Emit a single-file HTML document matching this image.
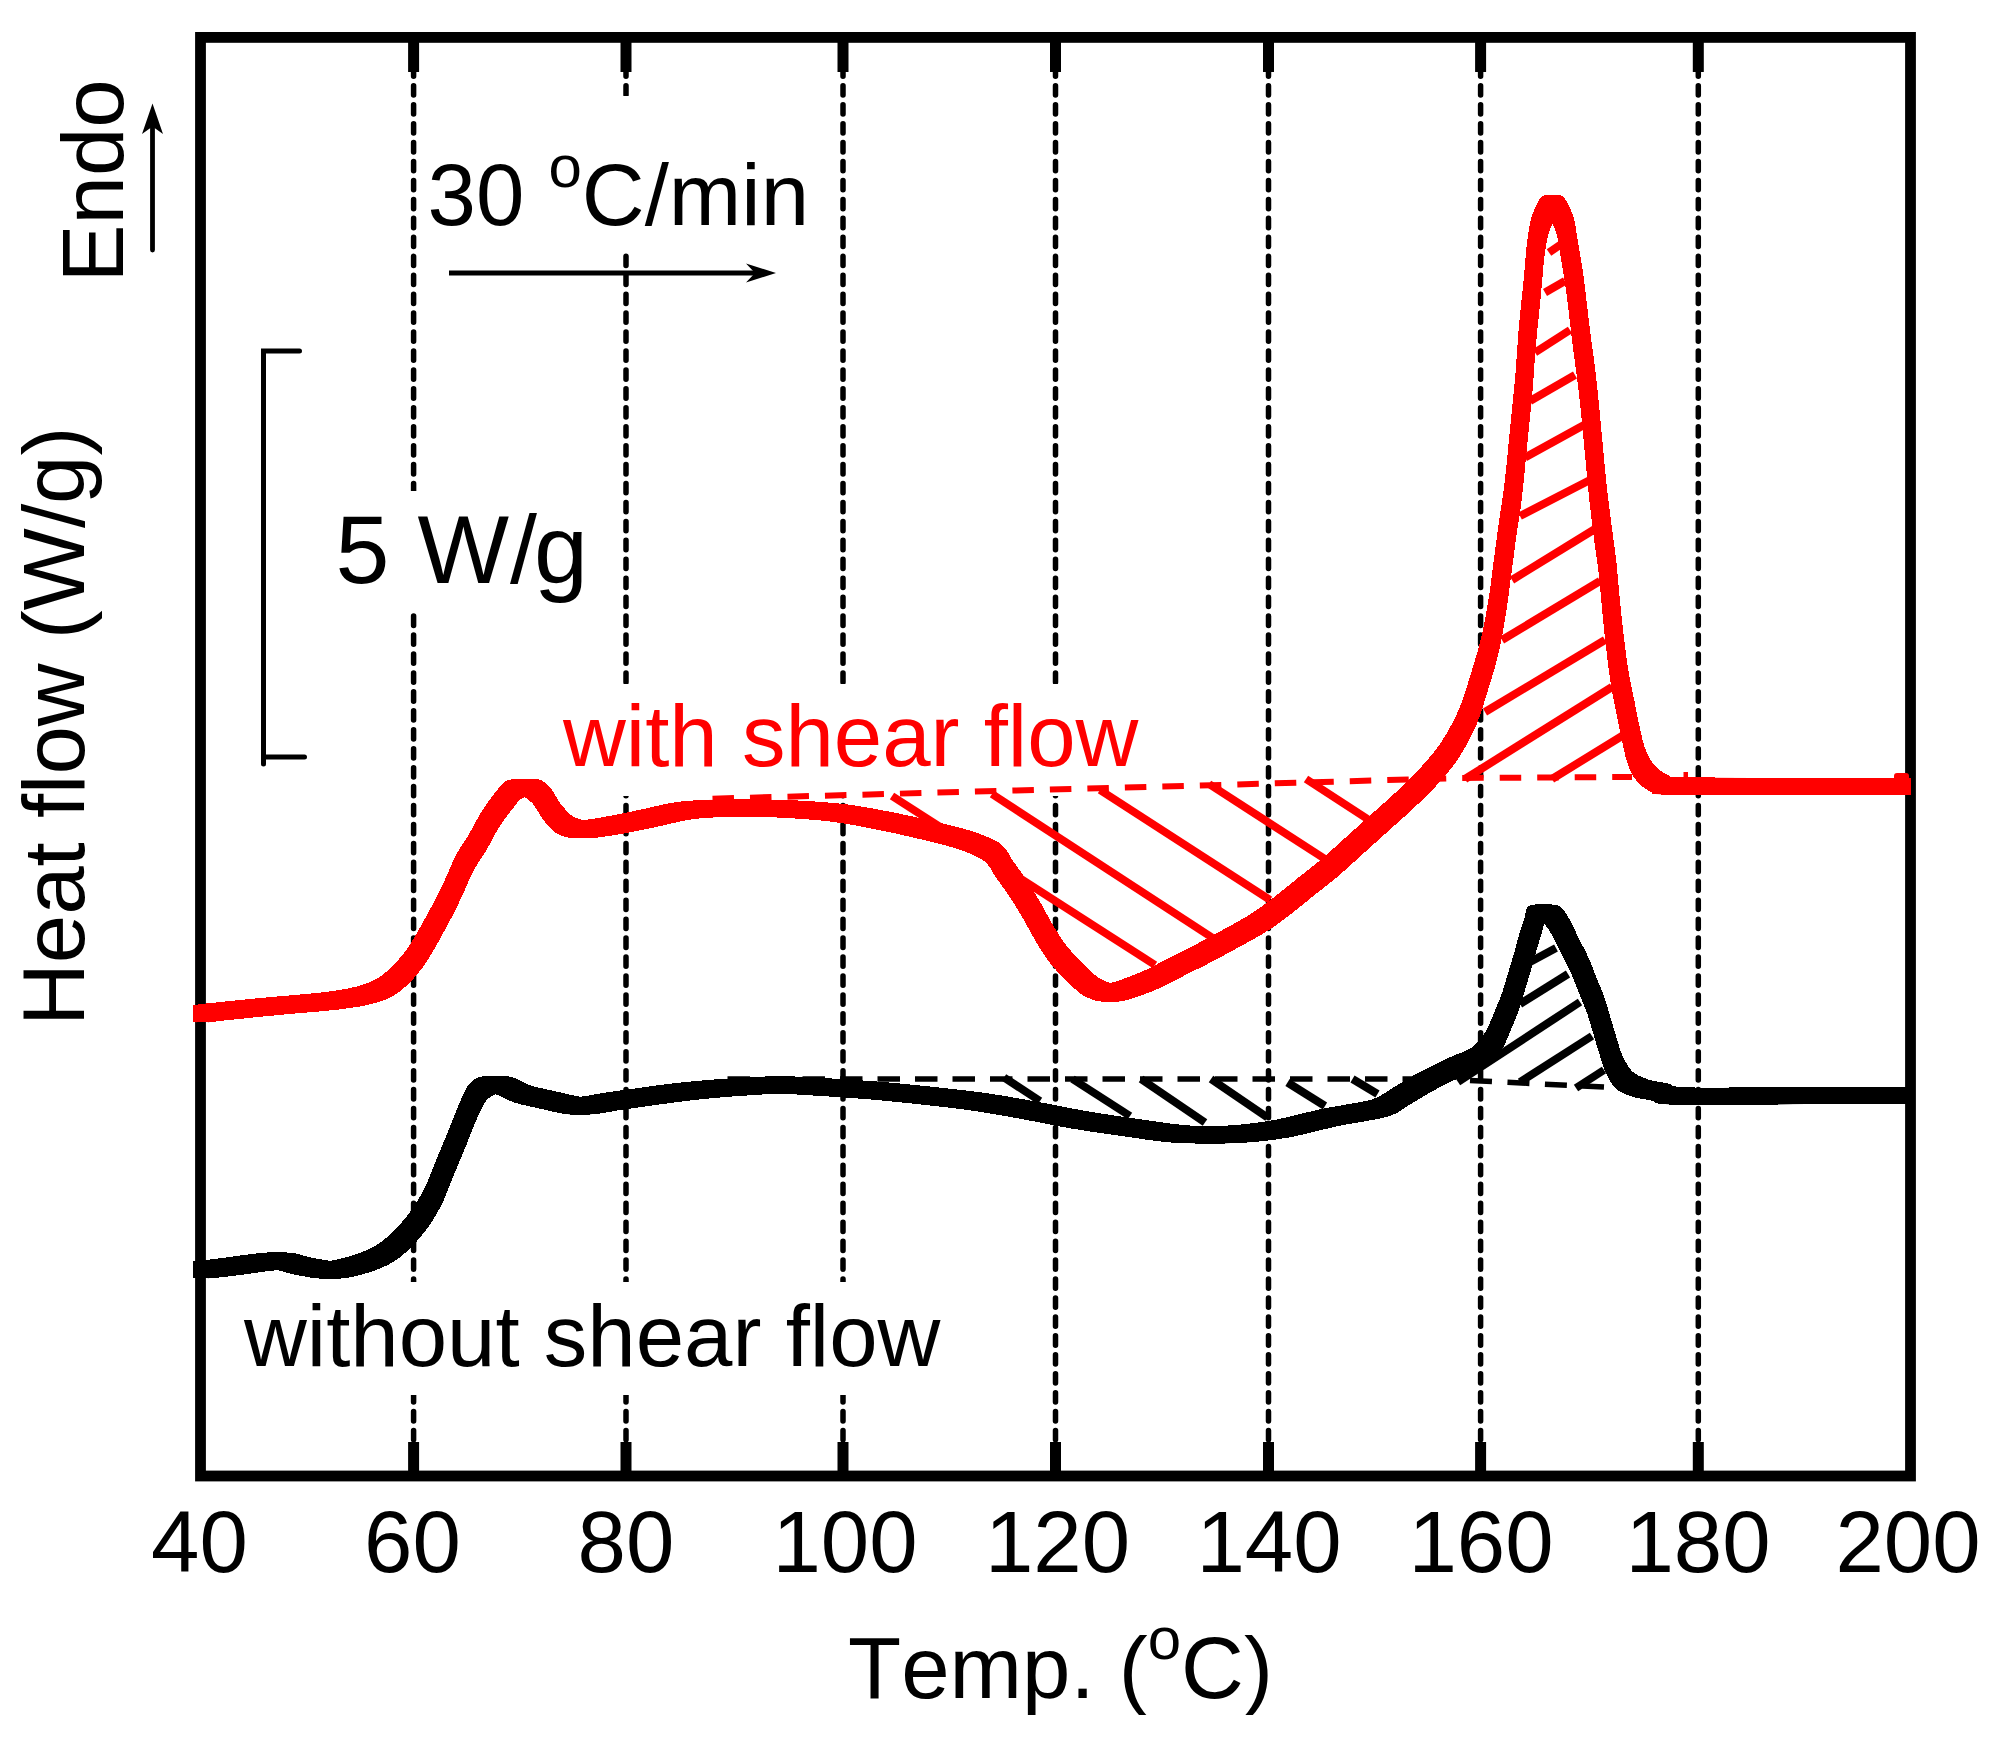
<!DOCTYPE html>
<html lang="en"><head><meta charset="utf-8"><title>DSC heat flow</title>
<style>html,body{margin:0;padding:0;background:#fff}body{width:2001px;height:1742px;overflow:hidden}svg{display:block}text{font-family:"Liberation Sans",Arial,sans-serif;font-kerning:none;font-variant-ligatures:none}</style>
</head><body>
<svg width="2001" height="1742" viewBox="0 0 2001 1742">
<defs><filter id="sq" filterUnits="userSpaceOnUse" x="0" y="0" width="2001" height="1742" color-interpolation-filters="sRGB"><feMorphology operator="dilate" radius="8"/></filter></defs>
<rect width="2001" height="1742" fill="#fff"/>
<g stroke="#000" stroke-width="5.5" stroke-linecap="round" stroke-dasharray="9.3 9.64" fill="none">
<line x1="413.6" y1="66.85" x2="413.6" y2="1440"/>
<line x1="626.0" y1="66.85" x2="626.0" y2="1440"/>
<line x1="843.0" y1="66.85" x2="843.0" y2="1440"/>
<line x1="1055.5" y1="66.85" x2="1055.5" y2="1440"/>
<line x1="1268.5" y1="66.85" x2="1268.5" y2="1440"/>
<line x1="1480.6" y1="66.85" x2="1480.6" y2="1440"/>
<line x1="1698.3" y1="66.85" x2="1698.3" y2="1440"/>
</g>
<rect x="420" y="96" width="396" height="156" fill="#fff"/>
<rect x="330" y="491" width="262" height="120" fill="#fff"/>
<rect x="555" y="684" width="592" height="112" fill="#fff"/>
<rect x="235" y="1282" width="712" height="113" fill="#fff"/>
<rect x="200.5" y="37.4" width="1710" height="1438.6" fill="none" stroke="#000" stroke-width="10.8"/>
<g stroke="#000" stroke-width="11">
<line x1="413.6" y1="42" x2="413.6" y2="72"/>
<line x1="413.6" y1="1442" x2="413.6" y2="1471"/>
<line x1="626.0" y1="42" x2="626.0" y2="72"/>
<line x1="626.0" y1="1442" x2="626.0" y2="1471"/>
<line x1="843.0" y1="42" x2="843.0" y2="72"/>
<line x1="843.0" y1="1442" x2="843.0" y2="1471"/>
<line x1="1055.5" y1="42" x2="1055.5" y2="72"/>
<line x1="1055.5" y1="1442" x2="1055.5" y2="1471"/>
<line x1="1268.5" y1="42" x2="1268.5" y2="72"/>
<line x1="1268.5" y1="1442" x2="1268.5" y2="1471"/>
<line x1="1480.6" y1="42" x2="1480.6" y2="72"/>
<line x1="1480.6" y1="1442" x2="1480.6" y2="1471"/>
<line x1="1698.3" y1="42" x2="1698.3" y2="72"/>
<line x1="1698.3" y1="1442" x2="1698.3" y2="1471"/>
</g>
<g stroke="#ff0000" fill="none">
<path d="M712.5 798.7 L1200 785.5 L1460 778 L1632 777" stroke-width="6" stroke-dasharray="21.5 16"/>
<g stroke-width="8">
<line x1="892" y1="796" x2="1155" y2="965"/>
<line x1="992" y1="794" x2="1212" y2="937.5"/>
<line x1="1100" y1="790" x2="1270" y2="900"/>
<line x1="1209" y1="784" x2="1325" y2="859"/>
<line x1="1306" y1="779" x2="1367.5" y2="819"/>
<line x1="1465" y1="779" x2="1612" y2="687"/>
<line x1="1552" y1="779" x2="1622" y2="736"/>
<line x1="1485" y1="712" x2="1605" y2="640"/>
<line x1="1502" y1="640" x2="1600" y2="581"/>
<line x1="1512" y1="580" x2="1595" y2="529"/>
<line x1="1520" y1="516" x2="1590" y2="480"/>
<line x1="1525" y1="457.5" x2="1584" y2="425"/>
<line x1="1530" y1="401" x2="1575" y2="375"/>
<line x1="1535" y1="352.5" x2="1570" y2="330"/>
<line x1="1545" y1="292.5" x2="1565" y2="281"/>
<line x1="1549" y1="252.5" x2="1560" y2="245"/>
</g>
<path d="M201.5 1014.0 C203.8 1013.7 202.8 1013.3 215.0 1012.0 C227.2 1010.7 255.8 1007.8 275.0 1006.0 C294.2 1004.2 315.0 1002.8 330.0 1001.0 C345.0 999.2 355.0 997.8 365.0 995.0 C375.0 992.2 381.7 990.2 390.0 984.0 C398.3 977.8 406.7 969.5 415.0 958.0 C423.3 946.5 433.8 926.3 440.0 915.0 C446.2 903.7 448.3 898.8 452.5 890.0 C456.7 881.2 460.8 870.4 465.0 862.5 C469.2 854.6 473.3 849.6 477.5 842.5 C481.7 835.4 485.8 826.7 490.0 820.0 C494.2 813.3 498.8 807.3 502.5 802.5 C506.2 797.7 509.1 793.4 512.0 791.0 C514.9 788.6 516.8 788.5 520.0 788.0 C523.2 787.5 527.5 786.8 531.0 788.0 C534.5 789.2 537.4 790.9 541.0 795.0 C544.6 799.1 548.5 807.5 552.5 812.5 C556.5 817.5 560.0 822.2 565.0 825.0 C570.0 827.8 574.2 829.5 582.5 829.5 C590.8 829.5 603.8 826.9 615.0 825.0 C626.2 823.1 637.5 820.5 650.0 818.0 C662.5 815.5 672.5 811.7 690.0 810.0 C707.5 808.3 731.7 807.7 755.0 808.0 C778.3 808.3 809.2 810.0 830.0 812.0 C850.8 814.0 863.3 816.8 880.0 820.0 C896.7 823.2 915.4 827.5 930.0 831.0 C944.6 834.5 957.1 837.4 967.5 841.0 C977.9 844.6 986.2 847.7 992.5 852.5 C998.8 857.3 1000.8 864.2 1005.0 870.0 C1009.2 875.8 1013.3 881.2 1017.5 887.5 C1021.7 893.8 1025.8 900.4 1030.0 907.5 C1034.2 914.6 1038.3 922.9 1042.5 930.0 C1046.7 937.1 1050.8 944.2 1055.0 950.0 C1059.2 955.8 1063.3 960.4 1067.5 965.0 C1071.7 969.6 1075.8 973.8 1080.0 977.5 C1084.2 981.2 1087.5 984.9 1092.5 987.5 C1097.5 990.1 1103.8 992.9 1110.0 993.0 C1116.2 993.1 1122.5 990.5 1130.0 988.0 C1137.5 985.5 1146.7 981.8 1155.0 978.0 C1163.3 974.2 1171.7 969.2 1180.0 965.0 C1188.3 960.8 1192.5 959.2 1205.0 952.5 C1217.5 945.8 1242.5 932.5 1255.0 925.0 C1267.5 917.5 1271.7 913.8 1280.0 907.5 C1288.3 901.2 1296.7 894.2 1305.0 887.5 C1313.3 880.8 1321.7 874.6 1330.0 867.5 C1338.3 860.4 1346.7 852.5 1355.0 845.0 C1363.3 837.5 1371.7 830.0 1380.0 822.5 C1388.3 815.0 1396.7 807.9 1405.0 800.0 C1413.3 792.1 1422.5 783.3 1430.0 775.0 C1437.5 766.7 1443.8 759.6 1450.0 750.0 C1456.2 740.4 1462.5 729.2 1467.5 717.5 C1472.5 705.8 1476.2 692.1 1480.0 680.0 C1483.8 667.9 1487.1 657.5 1490.0 645.0 C1492.9 632.5 1495.4 617.9 1497.5 605.0 C1499.6 592.1 1500.8 580.0 1502.5 567.5 C1504.2 555.0 1505.8 542.5 1507.5 530.0 C1509.2 517.5 1511.1 508.3 1513.0 492.5 C1514.9 476.7 1517.0 452.9 1518.8 435.0 C1520.5 417.1 1522.3 401.7 1523.8 385.0 C1525.2 368.3 1526.0 351.7 1527.5 335.0 C1529.0 318.3 1531.1 299.6 1532.5 285.0 C1533.9 270.4 1534.6 257.9 1536.0 247.5 C1537.4 237.1 1538.2 229.8 1541.0 222.5 C1543.8 215.2 1548.7 204.0 1552.5 204.0 C1556.3 204.0 1561.2 215.2 1564.0 222.5 C1566.8 229.8 1567.2 237.1 1569.0 247.5 C1570.8 257.9 1573.0 270.4 1575.0 285.0 C1577.0 299.6 1578.9 318.3 1581.0 335.0 C1583.1 351.7 1585.6 368.3 1587.5 385.0 C1589.4 401.7 1590.8 417.1 1592.5 435.0 C1594.2 452.9 1596.3 476.7 1598.0 492.5 C1599.7 508.3 1600.9 517.5 1602.5 530.0 C1604.1 542.5 1606.1 555.0 1607.5 567.5 C1608.9 580.0 1609.8 592.5 1611.0 605.0 C1612.2 617.5 1613.5 630.0 1615.0 642.5 C1616.5 655.0 1618.3 669.6 1620.0 680.0 C1621.7 690.4 1623.3 696.7 1625.0 705.0 C1626.7 713.3 1628.2 721.7 1630.0 730.0 C1631.8 738.3 1633.5 747.9 1636.0 755.0 C1638.5 762.1 1641.0 767.7 1645.0 772.5 C1649.0 777.3 1655.0 781.5 1660.0 783.8 C1665.0 786.0 1651.7 785.6 1675.0 786.0 C1698.3 786.4 1762.1 786.2 1800.0 786.2 C1837.9 786.2 1885.4 786.2 1902.5 786.2" stroke-width="13" stroke-linejoin="round" stroke-linecap="butt"/>
<path d="M201.5 1014.0 C203.8 1013.7 202.8 1013.3 215.0 1012.0 C227.2 1010.7 255.8 1007.8 275.0 1006.0 C294.2 1004.2 315.0 1002.8 330.0 1001.0 C345.0 999.2 355.0 997.8 365.0 995.0 C375.0 992.2 381.7 990.2 390.0 984.0 C398.3 977.8 406.7 969.5 415.0 958.0 C423.3 946.5 433.8 926.3 440.0 915.0 C446.2 903.7 448.3 898.8 452.5 890.0 C456.7 881.2 460.8 870.4 465.0 862.5 C469.2 854.6 473.3 849.6 477.5 842.5 C481.7 835.4 485.8 826.7 490.0 820.0 C494.2 813.3 498.8 807.3 502.5 802.5 C506.2 797.7 509.1 793.4 512.0 791.0 C514.9 788.6 516.8 788.5 520.0 788.0 C523.2 787.5 527.5 786.8 531.0 788.0 C534.5 789.2 537.4 790.9 541.0 795.0 C544.6 799.1 548.5 807.5 552.5 812.5 C556.5 817.5 560.0 822.2 565.0 825.0 C570.0 827.8 574.2 829.5 582.5 829.5 C590.8 829.5 603.8 826.9 615.0 825.0 C626.2 823.1 637.5 820.5 650.0 818.0 C662.5 815.5 672.5 811.7 690.0 810.0 C707.5 808.3 731.7 807.7 755.0 808.0 C778.3 808.3 809.2 810.0 830.0 812.0 C850.8 814.0 863.3 816.8 880.0 820.0 C896.7 823.2 915.4 827.5 930.0 831.0 C944.6 834.5 957.1 837.4 967.5 841.0 C977.9 844.6 986.2 847.7 992.5 852.5 C998.8 857.3 1000.8 864.2 1005.0 870.0 C1009.2 875.8 1013.3 881.2 1017.5 887.5 C1021.7 893.8 1025.8 900.4 1030.0 907.5 C1034.2 914.6 1038.3 922.9 1042.5 930.0 C1046.7 937.1 1050.8 944.2 1055.0 950.0 C1059.2 955.8 1063.3 960.4 1067.5 965.0 C1071.7 969.6 1075.8 973.8 1080.0 977.5 C1084.2 981.2 1087.5 984.9 1092.5 987.5 C1097.5 990.1 1103.8 992.9 1110.0 993.0 C1116.2 993.1 1122.5 990.5 1130.0 988.0 C1137.5 985.5 1146.7 981.8 1155.0 978.0 C1163.3 974.2 1171.7 969.2 1180.0 965.0 C1188.3 960.8 1192.5 959.2 1205.0 952.5 C1217.5 945.8 1242.5 932.5 1255.0 925.0 C1267.5 917.5 1271.7 913.8 1280.0 907.5 C1288.3 901.2 1296.7 894.2 1305.0 887.5 C1313.3 880.8 1321.7 874.6 1330.0 867.5 C1338.3 860.4 1346.7 852.5 1355.0 845.0 C1363.3 837.5 1371.7 830.0 1380.0 822.5 C1388.3 815.0 1396.7 807.9 1405.0 800.0 C1413.3 792.1 1422.5 783.3 1430.0 775.0 C1437.5 766.7 1443.8 759.6 1450.0 750.0 C1456.2 740.4 1462.5 729.2 1467.5 717.5 C1472.5 705.8 1476.2 692.1 1480.0 680.0 C1483.8 667.9 1487.1 657.5 1490.0 645.0 C1492.9 632.5 1495.4 617.9 1497.5 605.0 C1499.6 592.1 1500.8 580.0 1502.5 567.5 C1504.2 555.0 1505.8 542.5 1507.5 530.0 C1509.2 517.5 1511.1 508.3 1513.0 492.5 C1514.9 476.7 1517.0 452.9 1518.8 435.0 C1520.5 417.1 1522.3 401.7 1523.8 385.0 C1525.2 368.3 1526.0 351.7 1527.5 335.0 C1529.0 318.3 1531.1 299.6 1532.5 285.0 C1533.9 270.4 1534.6 257.9 1536.0 247.5 C1537.4 237.1 1538.2 229.8 1541.0 222.5 C1543.8 215.2 1548.7 204.0 1552.5 204.0 C1556.3 204.0 1561.2 215.2 1564.0 222.5 C1566.8 229.8 1567.2 237.1 1569.0 247.5 C1570.8 257.9 1573.0 270.4 1575.0 285.0 C1577.0 299.6 1578.9 318.3 1581.0 335.0 C1583.1 351.7 1585.6 368.3 1587.5 385.0 C1589.4 401.7 1590.8 417.1 1592.5 435.0 C1594.2 452.9 1596.3 476.7 1598.0 492.5 C1599.7 508.3 1600.9 517.5 1602.5 530.0 C1604.1 542.5 1606.1 555.0 1607.5 567.5 C1608.9 580.0 1609.8 592.5 1611.0 605.0 C1612.2 617.5 1613.5 630.0 1615.0 642.5 C1616.5 655.0 1618.3 669.6 1620.0 680.0 C1621.7 690.4 1623.3 696.7 1625.0 705.0 C1626.7 713.3 1628.2 721.7 1630.0 730.0 C1631.8 738.3 1633.5 747.9 1636.0 755.0 C1638.5 762.1 1641.0 767.7 1645.0 772.5 C1649.0 777.3 1655.0 781.5 1660.0 783.8 C1665.0 786.0 1651.7 785.6 1675.0 786.0 C1698.3 786.4 1762.1 786.2 1800.0 786.2 C1837.9 786.2 1885.4 786.2 1902.5 786.2" transform="translate(-6 -6)" stroke-width="4.6" stroke-linejoin="round" stroke-linecap="butt"/>
<path d="M201.5 1014.0 C203.8 1013.7 202.8 1013.3 215.0 1012.0 C227.2 1010.7 255.8 1007.8 275.0 1006.0 C294.2 1004.2 315.0 1002.8 330.0 1001.0 C345.0 999.2 355.0 997.8 365.0 995.0 C375.0 992.2 381.7 990.2 390.0 984.0 C398.3 977.8 406.7 969.5 415.0 958.0 C423.3 946.5 433.8 926.3 440.0 915.0 C446.2 903.7 448.3 898.8 452.5 890.0 C456.7 881.2 460.8 870.4 465.0 862.5 C469.2 854.6 473.3 849.6 477.5 842.5 C481.7 835.4 485.8 826.7 490.0 820.0 C494.2 813.3 498.8 807.3 502.5 802.5 C506.2 797.7 509.1 793.4 512.0 791.0 C514.9 788.6 516.8 788.5 520.0 788.0 C523.2 787.5 527.5 786.8 531.0 788.0 C534.5 789.2 537.4 790.9 541.0 795.0 C544.6 799.1 548.5 807.5 552.5 812.5 C556.5 817.5 560.0 822.2 565.0 825.0 C570.0 827.8 574.2 829.5 582.5 829.5 C590.8 829.5 603.8 826.9 615.0 825.0 C626.2 823.1 637.5 820.5 650.0 818.0 C662.5 815.5 672.5 811.7 690.0 810.0 C707.5 808.3 731.7 807.7 755.0 808.0 C778.3 808.3 809.2 810.0 830.0 812.0 C850.8 814.0 863.3 816.8 880.0 820.0 C896.7 823.2 915.4 827.5 930.0 831.0 C944.6 834.5 957.1 837.4 967.5 841.0 C977.9 844.6 986.2 847.7 992.5 852.5 C998.8 857.3 1000.8 864.2 1005.0 870.0 C1009.2 875.8 1013.3 881.2 1017.5 887.5 C1021.7 893.8 1025.8 900.4 1030.0 907.5 C1034.2 914.6 1038.3 922.9 1042.5 930.0 C1046.7 937.1 1050.8 944.2 1055.0 950.0 C1059.2 955.8 1063.3 960.4 1067.5 965.0 C1071.7 969.6 1075.8 973.8 1080.0 977.5 C1084.2 981.2 1087.5 984.9 1092.5 987.5 C1097.5 990.1 1103.8 992.9 1110.0 993.0 C1116.2 993.1 1122.5 990.5 1130.0 988.0 C1137.5 985.5 1146.7 981.8 1155.0 978.0 C1163.3 974.2 1171.7 969.2 1180.0 965.0 C1188.3 960.8 1192.5 959.2 1205.0 952.5 C1217.5 945.8 1242.5 932.5 1255.0 925.0 C1267.5 917.5 1271.7 913.8 1280.0 907.5 C1288.3 901.2 1296.7 894.2 1305.0 887.5 C1313.3 880.8 1321.7 874.6 1330.0 867.5 C1338.3 860.4 1346.7 852.5 1355.0 845.0 C1363.3 837.5 1371.7 830.0 1380.0 822.5 C1388.3 815.0 1396.7 807.9 1405.0 800.0 C1413.3 792.1 1422.5 783.3 1430.0 775.0 C1437.5 766.7 1443.8 759.6 1450.0 750.0 C1456.2 740.4 1462.5 729.2 1467.5 717.5 C1472.5 705.8 1476.2 692.1 1480.0 680.0 C1483.8 667.9 1487.1 657.5 1490.0 645.0 C1492.9 632.5 1495.4 617.9 1497.5 605.0 C1499.6 592.1 1500.8 580.0 1502.5 567.5 C1504.2 555.0 1505.8 542.5 1507.5 530.0 C1509.2 517.5 1511.1 508.3 1513.0 492.5 C1514.9 476.7 1517.0 452.9 1518.8 435.0 C1520.5 417.1 1522.3 401.7 1523.8 385.0 C1525.2 368.3 1526.0 351.7 1527.5 335.0 C1529.0 318.3 1531.1 299.6 1532.5 285.0 C1533.9 270.4 1534.6 257.9 1536.0 247.5 C1537.4 237.1 1538.2 229.8 1541.0 222.5 C1543.8 215.2 1548.7 204.0 1552.5 204.0 C1556.3 204.0 1561.2 215.2 1564.0 222.5 C1566.8 229.8 1567.2 237.1 1569.0 247.5 C1570.8 257.9 1573.0 270.4 1575.0 285.0 C1577.0 299.6 1578.9 318.3 1581.0 335.0 C1583.1 351.7 1585.6 368.3 1587.5 385.0 C1589.4 401.7 1590.8 417.1 1592.5 435.0 C1594.2 452.9 1596.3 476.7 1598.0 492.5 C1599.7 508.3 1600.9 517.5 1602.5 530.0 C1604.1 542.5 1606.1 555.0 1607.5 567.5 C1608.9 580.0 1609.8 592.5 1611.0 605.0 C1612.2 617.5 1613.5 630.0 1615.0 642.5 C1616.5 655.0 1618.3 669.6 1620.0 680.0 C1621.7 690.4 1623.3 696.7 1625.0 705.0 C1626.7 713.3 1628.2 721.7 1630.0 730.0 C1631.8 738.3 1633.5 747.9 1636.0 755.0 C1638.5 762.1 1641.0 767.7 1645.0 772.5 C1649.0 777.3 1655.0 781.5 1660.0 783.8 C1665.0 786.0 1651.7 785.6 1675.0 786.0 C1698.3 786.4 1762.1 786.2 1800.0 786.2 C1837.9 786.2 1885.4 786.2 1902.5 786.2" transform="translate(6 -6)" stroke-width="4.6" stroke-linejoin="round" stroke-linecap="butt"/>
<path d="M201.5 1014.0 C203.8 1013.7 202.8 1013.3 215.0 1012.0 C227.2 1010.7 255.8 1007.8 275.0 1006.0 C294.2 1004.2 315.0 1002.8 330.0 1001.0 C345.0 999.2 355.0 997.8 365.0 995.0 C375.0 992.2 381.7 990.2 390.0 984.0 C398.3 977.8 406.7 969.5 415.0 958.0 C423.3 946.5 433.8 926.3 440.0 915.0 C446.2 903.7 448.3 898.8 452.5 890.0 C456.7 881.2 460.8 870.4 465.0 862.5 C469.2 854.6 473.3 849.6 477.5 842.5 C481.7 835.4 485.8 826.7 490.0 820.0 C494.2 813.3 498.8 807.3 502.5 802.5 C506.2 797.7 509.1 793.4 512.0 791.0 C514.9 788.6 516.8 788.5 520.0 788.0 C523.2 787.5 527.5 786.8 531.0 788.0 C534.5 789.2 537.4 790.9 541.0 795.0 C544.6 799.1 548.5 807.5 552.5 812.5 C556.5 817.5 560.0 822.2 565.0 825.0 C570.0 827.8 574.2 829.5 582.5 829.5 C590.8 829.5 603.8 826.9 615.0 825.0 C626.2 823.1 637.5 820.5 650.0 818.0 C662.5 815.5 672.5 811.7 690.0 810.0 C707.5 808.3 731.7 807.7 755.0 808.0 C778.3 808.3 809.2 810.0 830.0 812.0 C850.8 814.0 863.3 816.8 880.0 820.0 C896.7 823.2 915.4 827.5 930.0 831.0 C944.6 834.5 957.1 837.4 967.5 841.0 C977.9 844.6 986.2 847.7 992.5 852.5 C998.8 857.3 1000.8 864.2 1005.0 870.0 C1009.2 875.8 1013.3 881.2 1017.5 887.5 C1021.7 893.8 1025.8 900.4 1030.0 907.5 C1034.2 914.6 1038.3 922.9 1042.5 930.0 C1046.7 937.1 1050.8 944.2 1055.0 950.0 C1059.2 955.8 1063.3 960.4 1067.5 965.0 C1071.7 969.6 1075.8 973.8 1080.0 977.5 C1084.2 981.2 1087.5 984.9 1092.5 987.5 C1097.5 990.1 1103.8 992.9 1110.0 993.0 C1116.2 993.1 1122.5 990.5 1130.0 988.0 C1137.5 985.5 1146.7 981.8 1155.0 978.0 C1163.3 974.2 1171.7 969.2 1180.0 965.0 C1188.3 960.8 1192.5 959.2 1205.0 952.5 C1217.5 945.8 1242.5 932.5 1255.0 925.0 C1267.5 917.5 1271.7 913.8 1280.0 907.5 C1288.3 901.2 1296.7 894.2 1305.0 887.5 C1313.3 880.8 1321.7 874.6 1330.0 867.5 C1338.3 860.4 1346.7 852.5 1355.0 845.0 C1363.3 837.5 1371.7 830.0 1380.0 822.5 C1388.3 815.0 1396.7 807.9 1405.0 800.0 C1413.3 792.1 1422.5 783.3 1430.0 775.0 C1437.5 766.7 1443.8 759.6 1450.0 750.0 C1456.2 740.4 1462.5 729.2 1467.5 717.5 C1472.5 705.8 1476.2 692.1 1480.0 680.0 C1483.8 667.9 1487.1 657.5 1490.0 645.0 C1492.9 632.5 1495.4 617.9 1497.5 605.0 C1499.6 592.1 1500.8 580.0 1502.5 567.5 C1504.2 555.0 1505.8 542.5 1507.5 530.0 C1509.2 517.5 1511.1 508.3 1513.0 492.5 C1514.9 476.7 1517.0 452.9 1518.8 435.0 C1520.5 417.1 1522.3 401.7 1523.8 385.0 C1525.2 368.3 1526.0 351.7 1527.5 335.0 C1529.0 318.3 1531.1 299.6 1532.5 285.0 C1533.9 270.4 1534.6 257.9 1536.0 247.5 C1537.4 237.1 1538.2 229.8 1541.0 222.5 C1543.8 215.2 1548.7 204.0 1552.5 204.0 C1556.3 204.0 1561.2 215.2 1564.0 222.5 C1566.8 229.8 1567.2 237.1 1569.0 247.5 C1570.8 257.9 1573.0 270.4 1575.0 285.0 C1577.0 299.6 1578.9 318.3 1581.0 335.0 C1583.1 351.7 1585.6 368.3 1587.5 385.0 C1589.4 401.7 1590.8 417.1 1592.5 435.0 C1594.2 452.9 1596.3 476.7 1598.0 492.5 C1599.7 508.3 1600.9 517.5 1602.5 530.0 C1604.1 542.5 1606.1 555.0 1607.5 567.5 C1608.9 580.0 1609.8 592.5 1611.0 605.0 C1612.2 617.5 1613.5 630.0 1615.0 642.5 C1616.5 655.0 1618.3 669.6 1620.0 680.0 C1621.7 690.4 1623.3 696.7 1625.0 705.0 C1626.7 713.3 1628.2 721.7 1630.0 730.0 C1631.8 738.3 1633.5 747.9 1636.0 755.0 C1638.5 762.1 1641.0 767.7 1645.0 772.5 C1649.0 777.3 1655.0 781.5 1660.0 783.8 C1665.0 786.0 1651.7 785.6 1675.0 786.0 C1698.3 786.4 1762.1 786.2 1800.0 786.2 C1837.9 786.2 1885.4 786.2 1902.5 786.2" transform="translate(-6 6)" stroke-width="4.6" stroke-linejoin="round" stroke-linecap="butt"/>
<path d="M201.5 1014.0 C203.8 1013.7 202.8 1013.3 215.0 1012.0 C227.2 1010.7 255.8 1007.8 275.0 1006.0 C294.2 1004.2 315.0 1002.8 330.0 1001.0 C345.0 999.2 355.0 997.8 365.0 995.0 C375.0 992.2 381.7 990.2 390.0 984.0 C398.3 977.8 406.7 969.5 415.0 958.0 C423.3 946.5 433.8 926.3 440.0 915.0 C446.2 903.7 448.3 898.8 452.5 890.0 C456.7 881.2 460.8 870.4 465.0 862.5 C469.2 854.6 473.3 849.6 477.5 842.5 C481.7 835.4 485.8 826.7 490.0 820.0 C494.2 813.3 498.8 807.3 502.5 802.5 C506.2 797.7 509.1 793.4 512.0 791.0 C514.9 788.6 516.8 788.5 520.0 788.0 C523.2 787.5 527.5 786.8 531.0 788.0 C534.5 789.2 537.4 790.9 541.0 795.0 C544.6 799.1 548.5 807.5 552.5 812.5 C556.5 817.5 560.0 822.2 565.0 825.0 C570.0 827.8 574.2 829.5 582.5 829.5 C590.8 829.5 603.8 826.9 615.0 825.0 C626.2 823.1 637.5 820.5 650.0 818.0 C662.5 815.5 672.5 811.7 690.0 810.0 C707.5 808.3 731.7 807.7 755.0 808.0 C778.3 808.3 809.2 810.0 830.0 812.0 C850.8 814.0 863.3 816.8 880.0 820.0 C896.7 823.2 915.4 827.5 930.0 831.0 C944.6 834.5 957.1 837.4 967.5 841.0 C977.9 844.6 986.2 847.7 992.5 852.5 C998.8 857.3 1000.8 864.2 1005.0 870.0 C1009.2 875.8 1013.3 881.2 1017.5 887.5 C1021.7 893.8 1025.8 900.4 1030.0 907.5 C1034.2 914.6 1038.3 922.9 1042.5 930.0 C1046.7 937.1 1050.8 944.2 1055.0 950.0 C1059.2 955.8 1063.3 960.4 1067.5 965.0 C1071.7 969.6 1075.8 973.8 1080.0 977.5 C1084.2 981.2 1087.5 984.9 1092.5 987.5 C1097.5 990.1 1103.8 992.9 1110.0 993.0 C1116.2 993.1 1122.5 990.5 1130.0 988.0 C1137.5 985.5 1146.7 981.8 1155.0 978.0 C1163.3 974.2 1171.7 969.2 1180.0 965.0 C1188.3 960.8 1192.5 959.2 1205.0 952.5 C1217.5 945.8 1242.5 932.5 1255.0 925.0 C1267.5 917.5 1271.7 913.8 1280.0 907.5 C1288.3 901.2 1296.7 894.2 1305.0 887.5 C1313.3 880.8 1321.7 874.6 1330.0 867.5 C1338.3 860.4 1346.7 852.5 1355.0 845.0 C1363.3 837.5 1371.7 830.0 1380.0 822.5 C1388.3 815.0 1396.7 807.9 1405.0 800.0 C1413.3 792.1 1422.5 783.3 1430.0 775.0 C1437.5 766.7 1443.8 759.6 1450.0 750.0 C1456.2 740.4 1462.5 729.2 1467.5 717.5 C1472.5 705.8 1476.2 692.1 1480.0 680.0 C1483.8 667.9 1487.1 657.5 1490.0 645.0 C1492.9 632.5 1495.4 617.9 1497.5 605.0 C1499.6 592.1 1500.8 580.0 1502.5 567.5 C1504.2 555.0 1505.8 542.5 1507.5 530.0 C1509.2 517.5 1511.1 508.3 1513.0 492.5 C1514.9 476.7 1517.0 452.9 1518.8 435.0 C1520.5 417.1 1522.3 401.7 1523.8 385.0 C1525.2 368.3 1526.0 351.7 1527.5 335.0 C1529.0 318.3 1531.1 299.6 1532.5 285.0 C1533.9 270.4 1534.6 257.9 1536.0 247.5 C1537.4 237.1 1538.2 229.8 1541.0 222.5 C1543.8 215.2 1548.7 204.0 1552.5 204.0 C1556.3 204.0 1561.2 215.2 1564.0 222.5 C1566.8 229.8 1567.2 237.1 1569.0 247.5 C1570.8 257.9 1573.0 270.4 1575.0 285.0 C1577.0 299.6 1578.9 318.3 1581.0 335.0 C1583.1 351.7 1585.6 368.3 1587.5 385.0 C1589.4 401.7 1590.8 417.1 1592.5 435.0 C1594.2 452.9 1596.3 476.7 1598.0 492.5 C1599.7 508.3 1600.9 517.5 1602.5 530.0 C1604.1 542.5 1606.1 555.0 1607.5 567.5 C1608.9 580.0 1609.8 592.5 1611.0 605.0 C1612.2 617.5 1613.5 630.0 1615.0 642.5 C1616.5 655.0 1618.3 669.6 1620.0 680.0 C1621.7 690.4 1623.3 696.7 1625.0 705.0 C1626.7 713.3 1628.2 721.7 1630.0 730.0 C1631.8 738.3 1633.5 747.9 1636.0 755.0 C1638.5 762.1 1641.0 767.7 1645.0 772.5 C1649.0 777.3 1655.0 781.5 1660.0 783.8 C1665.0 786.0 1651.7 785.6 1675.0 786.0 C1698.3 786.4 1762.1 786.2 1800.0 786.2 C1837.9 786.2 1885.4 786.2 1902.5 786.2" transform="translate(6 6)" stroke-width="4.6" stroke-linejoin="round" stroke-linecap="butt"/>
<path d="M201.5 1014.0 C203.8 1013.7 202.8 1013.3 215.0 1012.0 C227.2 1010.7 255.8 1007.8 275.0 1006.0 C294.2 1004.2 315.0 1002.8 330.0 1001.0 C345.0 999.2 355.0 997.8 365.0 995.0 C375.0 992.2 381.7 990.2 390.0 984.0 C398.3 977.8 406.7 969.5 415.0 958.0 C423.3 946.5 433.8 926.3 440.0 915.0 C446.2 903.7 448.3 898.8 452.5 890.0 C456.7 881.2 460.8 870.4 465.0 862.5 C469.2 854.6 473.3 849.6 477.5 842.5 C481.7 835.4 485.8 826.7 490.0 820.0 C494.2 813.3 498.8 807.3 502.5 802.5 C506.2 797.7 509.1 793.4 512.0 791.0 C514.9 788.6 516.8 788.5 520.0 788.0 C523.2 787.5 527.5 786.8 531.0 788.0 C534.5 789.2 537.4 790.9 541.0 795.0 C544.6 799.1 548.5 807.5 552.5 812.5 C556.5 817.5 560.0 822.2 565.0 825.0 C570.0 827.8 574.2 829.5 582.5 829.5 C590.8 829.5 603.8 826.9 615.0 825.0 C626.2 823.1 637.5 820.5 650.0 818.0 C662.5 815.5 672.5 811.7 690.0 810.0 C707.5 808.3 731.7 807.7 755.0 808.0 C778.3 808.3 809.2 810.0 830.0 812.0 C850.8 814.0 863.3 816.8 880.0 820.0 C896.7 823.2 915.4 827.5 930.0 831.0 C944.6 834.5 957.1 837.4 967.5 841.0 C977.9 844.6 986.2 847.7 992.5 852.5 C998.8 857.3 1000.8 864.2 1005.0 870.0 C1009.2 875.8 1013.3 881.2 1017.5 887.5 C1021.7 893.8 1025.8 900.4 1030.0 907.5 C1034.2 914.6 1038.3 922.9 1042.5 930.0 C1046.7 937.1 1050.8 944.2 1055.0 950.0 C1059.2 955.8 1063.3 960.4 1067.5 965.0 C1071.7 969.6 1075.8 973.8 1080.0 977.5 C1084.2 981.2 1087.5 984.9 1092.5 987.5 C1097.5 990.1 1103.8 992.9 1110.0 993.0 C1116.2 993.1 1122.5 990.5 1130.0 988.0 C1137.5 985.5 1146.7 981.8 1155.0 978.0 C1163.3 974.2 1171.7 969.2 1180.0 965.0 C1188.3 960.8 1192.5 959.2 1205.0 952.5 C1217.5 945.8 1242.5 932.5 1255.0 925.0 C1267.5 917.5 1271.7 913.8 1280.0 907.5 C1288.3 901.2 1296.7 894.2 1305.0 887.5 C1313.3 880.8 1321.7 874.6 1330.0 867.5 C1338.3 860.4 1346.7 852.5 1355.0 845.0 C1363.3 837.5 1371.7 830.0 1380.0 822.5 C1388.3 815.0 1396.7 807.9 1405.0 800.0 C1413.3 792.1 1422.5 783.3 1430.0 775.0 C1437.5 766.7 1443.8 759.6 1450.0 750.0 C1456.2 740.4 1462.5 729.2 1467.5 717.5 C1472.5 705.8 1476.2 692.1 1480.0 680.0 C1483.8 667.9 1487.1 657.5 1490.0 645.0 C1492.9 632.5 1495.4 617.9 1497.5 605.0 C1499.6 592.1 1500.8 580.0 1502.5 567.5 C1504.2 555.0 1505.8 542.5 1507.5 530.0 C1509.2 517.5 1511.1 508.3 1513.0 492.5 C1514.9 476.7 1517.0 452.9 1518.8 435.0 C1520.5 417.1 1522.3 401.7 1523.8 385.0 C1525.2 368.3 1526.0 351.7 1527.5 335.0 C1529.0 318.3 1531.1 299.6 1532.5 285.0 C1533.9 270.4 1534.6 257.9 1536.0 247.5 C1537.4 237.1 1538.2 229.8 1541.0 222.5 C1543.8 215.2 1548.7 204.0 1552.5 204.0 C1556.3 204.0 1561.2 215.2 1564.0 222.5 C1566.8 229.8 1567.2 237.1 1569.0 247.5 C1570.8 257.9 1573.0 270.4 1575.0 285.0 C1577.0 299.6 1578.9 318.3 1581.0 335.0 C1583.1 351.7 1585.6 368.3 1587.5 385.0 C1589.4 401.7 1590.8 417.1 1592.5 435.0 C1594.2 452.9 1596.3 476.7 1598.0 492.5 C1599.7 508.3 1600.9 517.5 1602.5 530.0 C1604.1 542.5 1606.1 555.0 1607.5 567.5 C1608.9 580.0 1609.8 592.5 1611.0 605.0 C1612.2 617.5 1613.5 630.0 1615.0 642.5 C1616.5 655.0 1618.3 669.6 1620.0 680.0 C1621.7 690.4 1623.3 696.7 1625.0 705.0 C1626.7 713.3 1628.2 721.7 1630.0 730.0 C1631.8 738.3 1633.5 747.9 1636.0 755.0 C1638.5 762.1 1641.0 767.7 1645.0 772.5 C1649.0 777.3 1655.0 781.5 1660.0 783.8 C1665.0 786.0 1651.7 785.6 1675.0 786.0 C1698.3 786.4 1762.1 786.2 1800.0 786.2 C1837.9 786.2 1885.4 786.2 1902.5 786.2" stroke-width="1.2" stroke-linejoin="round" stroke-linecap="butt" filter="url(#sq)" shape-rendering="crispEdges"/>
<rect x="1683.5" y="772" width="4.5" height="7" fill="#ff0000" stroke="none"/>
<path d="M1894 779 V776 Q1894 773 1897 773 H1906 Q1909 773 1909 776 V779 Z" fill="#ff0000" stroke="none"/>
</g>
<g stroke="#000" fill="none">
<path d="M727.5 1079 L1425 1079" stroke-width="5.5" stroke-dasharray="22.5 15"/>
<path d="M1470 1080.5 L1604 1087" stroke-width="5.5" stroke-dasharray="22 15.5"/>
<g stroke-width="8">
<line x1="1004" y1="1077.5" x2="1040" y2="1101"/>
<line x1="1072.5" y1="1079" x2="1130" y2="1116"/>
<line x1="1141" y1="1079" x2="1205" y2="1122.5"/>
<line x1="1211" y1="1079" x2="1267.5" y2="1117.5"/>
<line x1="1287.5" y1="1082.5" x2="1325" y2="1106"/>
<line x1="1352.5" y1="1079" x2="1377.5" y2="1094"/>
<line x1="1458" y1="1082" x2="1580" y2="1002"/>
<line x1="1520" y1="1082" x2="1592" y2="1036"/>
<line x1="1576" y1="1088" x2="1604" y2="1070"/>
<line x1="1520" y1="1004" x2="1568" y2="974"/>
<line x1="1530" y1="962" x2="1556" y2="948"/>
</g>
<path d="M201.5 1270.0 C205.8 1269.5 214.8 1268.5 227.5 1267.0 C240.2 1265.5 265.0 1261.2 277.5 1261.0 C290.0 1260.8 293.3 1264.5 302.5 1266.0 C311.7 1267.5 322.1 1270.6 332.5 1270.0 C342.9 1269.4 355.4 1265.8 365.0 1262.5 C374.6 1259.2 381.7 1256.2 390.0 1250.0 C398.3 1243.8 407.9 1233.8 415.0 1225.0 C422.1 1216.2 427.5 1207.1 432.5 1197.5 C437.5 1187.9 440.8 1177.5 445.0 1167.5 C449.2 1157.5 453.8 1146.7 457.5 1137.5 C461.2 1128.3 464.2 1120.0 467.5 1112.5 C470.8 1105.0 473.8 1097.1 477.5 1092.5 C481.2 1087.9 485.4 1086.1 490.0 1085.0 C494.6 1083.9 499.6 1084.5 505.0 1086.0 C510.4 1087.5 514.6 1091.5 522.5 1094.0 C530.4 1096.5 542.9 1099.0 552.5 1101.0 C562.1 1103.0 569.6 1106.0 580.0 1106.0 C590.4 1106.0 600.8 1103.0 615.0 1101.0 C629.2 1099.0 652.5 1095.7 665.0 1094.0 C677.5 1092.3 679.2 1092.1 690.0 1091.0 C700.8 1089.9 715.0 1088.5 730.0 1087.5 C745.0 1086.5 763.3 1085.0 780.0 1085.0 C796.7 1085.0 813.3 1086.5 830.0 1087.5 C846.7 1088.5 863.3 1089.6 880.0 1091.0 C896.7 1092.4 913.3 1094.2 930.0 1096.0 C946.7 1097.8 963.3 1099.6 980.0 1102.0 C996.7 1104.4 1013.3 1107.5 1030.0 1110.5 C1046.7 1113.5 1063.3 1117.2 1080.0 1120.0 C1096.7 1122.8 1113.3 1125.2 1130.0 1127.5 C1146.7 1129.8 1163.3 1132.8 1180.0 1134.0 C1196.7 1135.2 1213.3 1135.3 1230.0 1134.5 C1246.7 1133.7 1263.3 1131.8 1280.0 1129.0 C1296.7 1126.2 1313.3 1121.0 1330.0 1117.5 C1346.7 1114.0 1368.3 1111.4 1380.0 1108.0 C1391.7 1104.6 1393.3 1100.8 1400.0 1097.0 C1406.7 1093.2 1413.3 1088.8 1420.0 1085.0 C1426.7 1081.2 1433.3 1077.8 1440.0 1074.5 C1446.7 1071.2 1453.3 1068.1 1460.0 1065.0 C1466.7 1061.9 1474.3 1060.2 1480.0 1056.0 C1485.7 1051.8 1490.2 1046.0 1494.0 1040.0 C1497.8 1034.0 1500.2 1026.7 1503.0 1020.0 C1505.8 1013.3 1508.7 1006.7 1511.0 1000.0 C1513.3 993.3 1515.0 986.7 1517.0 980.0 C1519.0 973.3 1521.1 966.7 1523.0 960.0 C1524.9 953.3 1526.8 945.7 1528.5 940.0 C1530.2 934.3 1531.6 930.2 1533.0 926.0 C1534.4 921.8 1534.0 916.4 1537.0 914.5 C1540.0 912.6 1547.2 912.6 1551.0 914.5 C1554.8 916.4 1556.8 920.8 1560.0 926.0 C1563.2 931.2 1566.7 939.3 1570.0 946.0 C1573.3 952.7 1577.0 959.3 1580.0 966.0 C1583.0 972.7 1585.3 979.3 1588.0 986.0 C1590.7 992.7 1593.7 999.3 1596.0 1006.0 C1598.3 1012.7 1600.0 1019.3 1602.0 1026.0 C1604.0 1032.7 1606.0 1039.7 1608.0 1046.0 C1610.0 1052.3 1611.3 1058.3 1614.0 1064.0 C1616.7 1069.7 1619.7 1076.0 1624.0 1080.0 C1628.3 1084.0 1634.0 1086.0 1640.0 1088.0 C1646.0 1090.0 1653.3 1090.7 1660.0 1092.0 C1666.7 1093.3 1656.7 1095.4 1680.0 1096.0 C1703.3 1096.6 1762.7 1095.8 1800.0 1095.8 C1837.3 1095.8 1886.7 1095.8 1904.0 1095.8" stroke-width="13" stroke-linejoin="round" stroke-linecap="butt"/>
<path d="M201.5 1270.0 C205.8 1269.5 214.8 1268.5 227.5 1267.0 C240.2 1265.5 265.0 1261.2 277.5 1261.0 C290.0 1260.8 293.3 1264.5 302.5 1266.0 C311.7 1267.5 322.1 1270.6 332.5 1270.0 C342.9 1269.4 355.4 1265.8 365.0 1262.5 C374.6 1259.2 381.7 1256.2 390.0 1250.0 C398.3 1243.8 407.9 1233.8 415.0 1225.0 C422.1 1216.2 427.5 1207.1 432.5 1197.5 C437.5 1187.9 440.8 1177.5 445.0 1167.5 C449.2 1157.5 453.8 1146.7 457.5 1137.5 C461.2 1128.3 464.2 1120.0 467.5 1112.5 C470.8 1105.0 473.8 1097.1 477.5 1092.5 C481.2 1087.9 485.4 1086.1 490.0 1085.0 C494.6 1083.9 499.6 1084.5 505.0 1086.0 C510.4 1087.5 514.6 1091.5 522.5 1094.0 C530.4 1096.5 542.9 1099.0 552.5 1101.0 C562.1 1103.0 569.6 1106.0 580.0 1106.0 C590.4 1106.0 600.8 1103.0 615.0 1101.0 C629.2 1099.0 652.5 1095.7 665.0 1094.0 C677.5 1092.3 679.2 1092.1 690.0 1091.0 C700.8 1089.9 715.0 1088.5 730.0 1087.5 C745.0 1086.5 763.3 1085.0 780.0 1085.0 C796.7 1085.0 813.3 1086.5 830.0 1087.5 C846.7 1088.5 863.3 1089.6 880.0 1091.0 C896.7 1092.4 913.3 1094.2 930.0 1096.0 C946.7 1097.8 963.3 1099.6 980.0 1102.0 C996.7 1104.4 1013.3 1107.5 1030.0 1110.5 C1046.7 1113.5 1063.3 1117.2 1080.0 1120.0 C1096.7 1122.8 1113.3 1125.2 1130.0 1127.5 C1146.7 1129.8 1163.3 1132.8 1180.0 1134.0 C1196.7 1135.2 1213.3 1135.3 1230.0 1134.5 C1246.7 1133.7 1263.3 1131.8 1280.0 1129.0 C1296.7 1126.2 1313.3 1121.0 1330.0 1117.5 C1346.7 1114.0 1368.3 1111.4 1380.0 1108.0 C1391.7 1104.6 1393.3 1100.8 1400.0 1097.0 C1406.7 1093.2 1413.3 1088.8 1420.0 1085.0 C1426.7 1081.2 1433.3 1077.8 1440.0 1074.5 C1446.7 1071.2 1453.3 1068.1 1460.0 1065.0 C1466.7 1061.9 1474.3 1060.2 1480.0 1056.0 C1485.7 1051.8 1490.2 1046.0 1494.0 1040.0 C1497.8 1034.0 1500.2 1026.7 1503.0 1020.0 C1505.8 1013.3 1508.7 1006.7 1511.0 1000.0 C1513.3 993.3 1515.0 986.7 1517.0 980.0 C1519.0 973.3 1521.1 966.7 1523.0 960.0 C1524.9 953.3 1526.8 945.7 1528.5 940.0 C1530.2 934.3 1531.6 930.2 1533.0 926.0 C1534.4 921.8 1534.0 916.4 1537.0 914.5 C1540.0 912.6 1547.2 912.6 1551.0 914.5 C1554.8 916.4 1556.8 920.8 1560.0 926.0 C1563.2 931.2 1566.7 939.3 1570.0 946.0 C1573.3 952.7 1577.0 959.3 1580.0 966.0 C1583.0 972.7 1585.3 979.3 1588.0 986.0 C1590.7 992.7 1593.7 999.3 1596.0 1006.0 C1598.3 1012.7 1600.0 1019.3 1602.0 1026.0 C1604.0 1032.7 1606.0 1039.7 1608.0 1046.0 C1610.0 1052.3 1611.3 1058.3 1614.0 1064.0 C1616.7 1069.7 1619.7 1076.0 1624.0 1080.0 C1628.3 1084.0 1634.0 1086.0 1640.0 1088.0 C1646.0 1090.0 1653.3 1090.7 1660.0 1092.0 C1666.7 1093.3 1656.7 1095.4 1680.0 1096.0 C1703.3 1096.6 1762.7 1095.8 1800.0 1095.8 C1837.3 1095.8 1886.7 1095.8 1904.0 1095.8" transform="translate(-6 -6)" stroke-width="4.6" stroke-linejoin="round" stroke-linecap="butt"/>
<path d="M201.5 1270.0 C205.8 1269.5 214.8 1268.5 227.5 1267.0 C240.2 1265.5 265.0 1261.2 277.5 1261.0 C290.0 1260.8 293.3 1264.5 302.5 1266.0 C311.7 1267.5 322.1 1270.6 332.5 1270.0 C342.9 1269.4 355.4 1265.8 365.0 1262.5 C374.6 1259.2 381.7 1256.2 390.0 1250.0 C398.3 1243.8 407.9 1233.8 415.0 1225.0 C422.1 1216.2 427.5 1207.1 432.5 1197.5 C437.5 1187.9 440.8 1177.5 445.0 1167.5 C449.2 1157.5 453.8 1146.7 457.5 1137.5 C461.2 1128.3 464.2 1120.0 467.5 1112.5 C470.8 1105.0 473.8 1097.1 477.5 1092.5 C481.2 1087.9 485.4 1086.1 490.0 1085.0 C494.6 1083.9 499.6 1084.5 505.0 1086.0 C510.4 1087.5 514.6 1091.5 522.5 1094.0 C530.4 1096.5 542.9 1099.0 552.5 1101.0 C562.1 1103.0 569.6 1106.0 580.0 1106.0 C590.4 1106.0 600.8 1103.0 615.0 1101.0 C629.2 1099.0 652.5 1095.7 665.0 1094.0 C677.5 1092.3 679.2 1092.1 690.0 1091.0 C700.8 1089.9 715.0 1088.5 730.0 1087.5 C745.0 1086.5 763.3 1085.0 780.0 1085.0 C796.7 1085.0 813.3 1086.5 830.0 1087.5 C846.7 1088.5 863.3 1089.6 880.0 1091.0 C896.7 1092.4 913.3 1094.2 930.0 1096.0 C946.7 1097.8 963.3 1099.6 980.0 1102.0 C996.7 1104.4 1013.3 1107.5 1030.0 1110.5 C1046.7 1113.5 1063.3 1117.2 1080.0 1120.0 C1096.7 1122.8 1113.3 1125.2 1130.0 1127.5 C1146.7 1129.8 1163.3 1132.8 1180.0 1134.0 C1196.7 1135.2 1213.3 1135.3 1230.0 1134.5 C1246.7 1133.7 1263.3 1131.8 1280.0 1129.0 C1296.7 1126.2 1313.3 1121.0 1330.0 1117.5 C1346.7 1114.0 1368.3 1111.4 1380.0 1108.0 C1391.7 1104.6 1393.3 1100.8 1400.0 1097.0 C1406.7 1093.2 1413.3 1088.8 1420.0 1085.0 C1426.7 1081.2 1433.3 1077.8 1440.0 1074.5 C1446.7 1071.2 1453.3 1068.1 1460.0 1065.0 C1466.7 1061.9 1474.3 1060.2 1480.0 1056.0 C1485.7 1051.8 1490.2 1046.0 1494.0 1040.0 C1497.8 1034.0 1500.2 1026.7 1503.0 1020.0 C1505.8 1013.3 1508.7 1006.7 1511.0 1000.0 C1513.3 993.3 1515.0 986.7 1517.0 980.0 C1519.0 973.3 1521.1 966.7 1523.0 960.0 C1524.9 953.3 1526.8 945.7 1528.5 940.0 C1530.2 934.3 1531.6 930.2 1533.0 926.0 C1534.4 921.8 1534.0 916.4 1537.0 914.5 C1540.0 912.6 1547.2 912.6 1551.0 914.5 C1554.8 916.4 1556.8 920.8 1560.0 926.0 C1563.2 931.2 1566.7 939.3 1570.0 946.0 C1573.3 952.7 1577.0 959.3 1580.0 966.0 C1583.0 972.7 1585.3 979.3 1588.0 986.0 C1590.7 992.7 1593.7 999.3 1596.0 1006.0 C1598.3 1012.7 1600.0 1019.3 1602.0 1026.0 C1604.0 1032.7 1606.0 1039.7 1608.0 1046.0 C1610.0 1052.3 1611.3 1058.3 1614.0 1064.0 C1616.7 1069.7 1619.7 1076.0 1624.0 1080.0 C1628.3 1084.0 1634.0 1086.0 1640.0 1088.0 C1646.0 1090.0 1653.3 1090.7 1660.0 1092.0 C1666.7 1093.3 1656.7 1095.4 1680.0 1096.0 C1703.3 1096.6 1762.7 1095.8 1800.0 1095.8 C1837.3 1095.8 1886.7 1095.8 1904.0 1095.8" transform="translate(6 -6)" stroke-width="4.6" stroke-linejoin="round" stroke-linecap="butt"/>
<path d="M201.5 1270.0 C205.8 1269.5 214.8 1268.5 227.5 1267.0 C240.2 1265.5 265.0 1261.2 277.5 1261.0 C290.0 1260.8 293.3 1264.5 302.5 1266.0 C311.7 1267.5 322.1 1270.6 332.5 1270.0 C342.9 1269.4 355.4 1265.8 365.0 1262.5 C374.6 1259.2 381.7 1256.2 390.0 1250.0 C398.3 1243.8 407.9 1233.8 415.0 1225.0 C422.1 1216.2 427.5 1207.1 432.5 1197.5 C437.5 1187.9 440.8 1177.5 445.0 1167.5 C449.2 1157.5 453.8 1146.7 457.5 1137.5 C461.2 1128.3 464.2 1120.0 467.5 1112.5 C470.8 1105.0 473.8 1097.1 477.5 1092.5 C481.2 1087.9 485.4 1086.1 490.0 1085.0 C494.6 1083.9 499.6 1084.5 505.0 1086.0 C510.4 1087.5 514.6 1091.5 522.5 1094.0 C530.4 1096.5 542.9 1099.0 552.5 1101.0 C562.1 1103.0 569.6 1106.0 580.0 1106.0 C590.4 1106.0 600.8 1103.0 615.0 1101.0 C629.2 1099.0 652.5 1095.7 665.0 1094.0 C677.5 1092.3 679.2 1092.1 690.0 1091.0 C700.8 1089.9 715.0 1088.5 730.0 1087.5 C745.0 1086.5 763.3 1085.0 780.0 1085.0 C796.7 1085.0 813.3 1086.5 830.0 1087.5 C846.7 1088.5 863.3 1089.6 880.0 1091.0 C896.7 1092.4 913.3 1094.2 930.0 1096.0 C946.7 1097.8 963.3 1099.6 980.0 1102.0 C996.7 1104.4 1013.3 1107.5 1030.0 1110.5 C1046.7 1113.5 1063.3 1117.2 1080.0 1120.0 C1096.7 1122.8 1113.3 1125.2 1130.0 1127.5 C1146.7 1129.8 1163.3 1132.8 1180.0 1134.0 C1196.7 1135.2 1213.3 1135.3 1230.0 1134.5 C1246.7 1133.7 1263.3 1131.8 1280.0 1129.0 C1296.7 1126.2 1313.3 1121.0 1330.0 1117.5 C1346.7 1114.0 1368.3 1111.4 1380.0 1108.0 C1391.7 1104.6 1393.3 1100.8 1400.0 1097.0 C1406.7 1093.2 1413.3 1088.8 1420.0 1085.0 C1426.7 1081.2 1433.3 1077.8 1440.0 1074.5 C1446.7 1071.2 1453.3 1068.1 1460.0 1065.0 C1466.7 1061.9 1474.3 1060.2 1480.0 1056.0 C1485.7 1051.8 1490.2 1046.0 1494.0 1040.0 C1497.8 1034.0 1500.2 1026.7 1503.0 1020.0 C1505.8 1013.3 1508.7 1006.7 1511.0 1000.0 C1513.3 993.3 1515.0 986.7 1517.0 980.0 C1519.0 973.3 1521.1 966.7 1523.0 960.0 C1524.9 953.3 1526.8 945.7 1528.5 940.0 C1530.2 934.3 1531.6 930.2 1533.0 926.0 C1534.4 921.8 1534.0 916.4 1537.0 914.5 C1540.0 912.6 1547.2 912.6 1551.0 914.5 C1554.8 916.4 1556.8 920.8 1560.0 926.0 C1563.2 931.2 1566.7 939.3 1570.0 946.0 C1573.3 952.7 1577.0 959.3 1580.0 966.0 C1583.0 972.7 1585.3 979.3 1588.0 986.0 C1590.7 992.7 1593.7 999.3 1596.0 1006.0 C1598.3 1012.7 1600.0 1019.3 1602.0 1026.0 C1604.0 1032.7 1606.0 1039.7 1608.0 1046.0 C1610.0 1052.3 1611.3 1058.3 1614.0 1064.0 C1616.7 1069.7 1619.7 1076.0 1624.0 1080.0 C1628.3 1084.0 1634.0 1086.0 1640.0 1088.0 C1646.0 1090.0 1653.3 1090.7 1660.0 1092.0 C1666.7 1093.3 1656.7 1095.4 1680.0 1096.0 C1703.3 1096.6 1762.7 1095.8 1800.0 1095.8 C1837.3 1095.8 1886.7 1095.8 1904.0 1095.8" transform="translate(-6 6)" stroke-width="4.6" stroke-linejoin="round" stroke-linecap="butt"/>
<path d="M201.5 1270.0 C205.8 1269.5 214.8 1268.5 227.5 1267.0 C240.2 1265.5 265.0 1261.2 277.5 1261.0 C290.0 1260.8 293.3 1264.5 302.5 1266.0 C311.7 1267.5 322.1 1270.6 332.5 1270.0 C342.9 1269.4 355.4 1265.8 365.0 1262.5 C374.6 1259.2 381.7 1256.2 390.0 1250.0 C398.3 1243.8 407.9 1233.8 415.0 1225.0 C422.1 1216.2 427.5 1207.1 432.5 1197.5 C437.5 1187.9 440.8 1177.5 445.0 1167.5 C449.2 1157.5 453.8 1146.7 457.5 1137.5 C461.2 1128.3 464.2 1120.0 467.5 1112.5 C470.8 1105.0 473.8 1097.1 477.5 1092.5 C481.2 1087.9 485.4 1086.1 490.0 1085.0 C494.6 1083.9 499.6 1084.5 505.0 1086.0 C510.4 1087.5 514.6 1091.5 522.5 1094.0 C530.4 1096.5 542.9 1099.0 552.5 1101.0 C562.1 1103.0 569.6 1106.0 580.0 1106.0 C590.4 1106.0 600.8 1103.0 615.0 1101.0 C629.2 1099.0 652.5 1095.7 665.0 1094.0 C677.5 1092.3 679.2 1092.1 690.0 1091.0 C700.8 1089.9 715.0 1088.5 730.0 1087.5 C745.0 1086.5 763.3 1085.0 780.0 1085.0 C796.7 1085.0 813.3 1086.5 830.0 1087.5 C846.7 1088.5 863.3 1089.6 880.0 1091.0 C896.7 1092.4 913.3 1094.2 930.0 1096.0 C946.7 1097.8 963.3 1099.6 980.0 1102.0 C996.7 1104.4 1013.3 1107.5 1030.0 1110.5 C1046.7 1113.5 1063.3 1117.2 1080.0 1120.0 C1096.7 1122.8 1113.3 1125.2 1130.0 1127.5 C1146.7 1129.8 1163.3 1132.8 1180.0 1134.0 C1196.7 1135.2 1213.3 1135.3 1230.0 1134.5 C1246.7 1133.7 1263.3 1131.8 1280.0 1129.0 C1296.7 1126.2 1313.3 1121.0 1330.0 1117.5 C1346.7 1114.0 1368.3 1111.4 1380.0 1108.0 C1391.7 1104.6 1393.3 1100.8 1400.0 1097.0 C1406.7 1093.2 1413.3 1088.8 1420.0 1085.0 C1426.7 1081.2 1433.3 1077.8 1440.0 1074.5 C1446.7 1071.2 1453.3 1068.1 1460.0 1065.0 C1466.7 1061.9 1474.3 1060.2 1480.0 1056.0 C1485.7 1051.8 1490.2 1046.0 1494.0 1040.0 C1497.8 1034.0 1500.2 1026.7 1503.0 1020.0 C1505.8 1013.3 1508.7 1006.7 1511.0 1000.0 C1513.3 993.3 1515.0 986.7 1517.0 980.0 C1519.0 973.3 1521.1 966.7 1523.0 960.0 C1524.9 953.3 1526.8 945.7 1528.5 940.0 C1530.2 934.3 1531.6 930.2 1533.0 926.0 C1534.4 921.8 1534.0 916.4 1537.0 914.5 C1540.0 912.6 1547.2 912.6 1551.0 914.5 C1554.8 916.4 1556.8 920.8 1560.0 926.0 C1563.2 931.2 1566.7 939.3 1570.0 946.0 C1573.3 952.7 1577.0 959.3 1580.0 966.0 C1583.0 972.7 1585.3 979.3 1588.0 986.0 C1590.7 992.7 1593.7 999.3 1596.0 1006.0 C1598.3 1012.7 1600.0 1019.3 1602.0 1026.0 C1604.0 1032.7 1606.0 1039.7 1608.0 1046.0 C1610.0 1052.3 1611.3 1058.3 1614.0 1064.0 C1616.7 1069.7 1619.7 1076.0 1624.0 1080.0 C1628.3 1084.0 1634.0 1086.0 1640.0 1088.0 C1646.0 1090.0 1653.3 1090.7 1660.0 1092.0 C1666.7 1093.3 1656.7 1095.4 1680.0 1096.0 C1703.3 1096.6 1762.7 1095.8 1800.0 1095.8 C1837.3 1095.8 1886.7 1095.8 1904.0 1095.8" transform="translate(6 6)" stroke-width="4.6" stroke-linejoin="round" stroke-linecap="butt"/>
<path d="M201.5 1270.0 C205.8 1269.5 214.8 1268.5 227.5 1267.0 C240.2 1265.5 265.0 1261.2 277.5 1261.0 C290.0 1260.8 293.3 1264.5 302.5 1266.0 C311.7 1267.5 322.1 1270.6 332.5 1270.0 C342.9 1269.4 355.4 1265.8 365.0 1262.5 C374.6 1259.2 381.7 1256.2 390.0 1250.0 C398.3 1243.8 407.9 1233.8 415.0 1225.0 C422.1 1216.2 427.5 1207.1 432.5 1197.5 C437.5 1187.9 440.8 1177.5 445.0 1167.5 C449.2 1157.5 453.8 1146.7 457.5 1137.5 C461.2 1128.3 464.2 1120.0 467.5 1112.5 C470.8 1105.0 473.8 1097.1 477.5 1092.5 C481.2 1087.9 485.4 1086.1 490.0 1085.0 C494.6 1083.9 499.6 1084.5 505.0 1086.0 C510.4 1087.5 514.6 1091.5 522.5 1094.0 C530.4 1096.5 542.9 1099.0 552.5 1101.0 C562.1 1103.0 569.6 1106.0 580.0 1106.0 C590.4 1106.0 600.8 1103.0 615.0 1101.0 C629.2 1099.0 652.5 1095.7 665.0 1094.0 C677.5 1092.3 679.2 1092.1 690.0 1091.0 C700.8 1089.9 715.0 1088.5 730.0 1087.5 C745.0 1086.5 763.3 1085.0 780.0 1085.0 C796.7 1085.0 813.3 1086.5 830.0 1087.5 C846.7 1088.5 863.3 1089.6 880.0 1091.0 C896.7 1092.4 913.3 1094.2 930.0 1096.0 C946.7 1097.8 963.3 1099.6 980.0 1102.0 C996.7 1104.4 1013.3 1107.5 1030.0 1110.5 C1046.7 1113.5 1063.3 1117.2 1080.0 1120.0 C1096.7 1122.8 1113.3 1125.2 1130.0 1127.5 C1146.7 1129.8 1163.3 1132.8 1180.0 1134.0 C1196.7 1135.2 1213.3 1135.3 1230.0 1134.5 C1246.7 1133.7 1263.3 1131.8 1280.0 1129.0 C1296.7 1126.2 1313.3 1121.0 1330.0 1117.5 C1346.7 1114.0 1368.3 1111.4 1380.0 1108.0 C1391.7 1104.6 1393.3 1100.8 1400.0 1097.0 C1406.7 1093.2 1413.3 1088.8 1420.0 1085.0 C1426.7 1081.2 1433.3 1077.8 1440.0 1074.5 C1446.7 1071.2 1453.3 1068.1 1460.0 1065.0 C1466.7 1061.9 1474.3 1060.2 1480.0 1056.0 C1485.7 1051.8 1490.2 1046.0 1494.0 1040.0 C1497.8 1034.0 1500.2 1026.7 1503.0 1020.0 C1505.8 1013.3 1508.7 1006.7 1511.0 1000.0 C1513.3 993.3 1515.0 986.7 1517.0 980.0 C1519.0 973.3 1521.1 966.7 1523.0 960.0 C1524.9 953.3 1526.8 945.7 1528.5 940.0 C1530.2 934.3 1531.6 930.2 1533.0 926.0 C1534.4 921.8 1534.0 916.4 1537.0 914.5 C1540.0 912.6 1547.2 912.6 1551.0 914.5 C1554.8 916.4 1556.8 920.8 1560.0 926.0 C1563.2 931.2 1566.7 939.3 1570.0 946.0 C1573.3 952.7 1577.0 959.3 1580.0 966.0 C1583.0 972.7 1585.3 979.3 1588.0 986.0 C1590.7 992.7 1593.7 999.3 1596.0 1006.0 C1598.3 1012.7 1600.0 1019.3 1602.0 1026.0 C1604.0 1032.7 1606.0 1039.7 1608.0 1046.0 C1610.0 1052.3 1611.3 1058.3 1614.0 1064.0 C1616.7 1069.7 1619.7 1076.0 1624.0 1080.0 C1628.3 1084.0 1634.0 1086.0 1640.0 1088.0 C1646.0 1090.0 1653.3 1090.7 1660.0 1092.0 C1666.7 1093.3 1656.7 1095.4 1680.0 1096.0 C1703.3 1096.6 1762.7 1095.8 1800.0 1095.8 C1837.3 1095.8 1886.7 1095.8 1904.0 1095.8" stroke-width="1.2" stroke-linejoin="round" stroke-linecap="butt" filter="url(#sq)" shape-rendering="crispEdges"/>
</g>
<path d="M299.5 351 H263.5 V764 M263.5 757 H304.5" fill="none" stroke="#000" stroke-width="5" stroke-linecap="round"/>
<line x1="449" y1="273" x2="760" y2="273" stroke="#000" stroke-width="5"/>
<path d="M776 273 L746 263.5 L755 273 L746 282.5 Z" fill="#000"/>
<line x1="152.5" y1="250" x2="152.5" y2="120" stroke="#000" stroke-width="4.8" stroke-linecap="round"/>
<path d="M152.5 103.5 L142 134 L152.5 126.5 L163 134 Z" fill="#000"/>
<g fill="#000" font-size="87">
<text x="199.5" y="1571.5" text-anchor="middle">40</text>
<text x="412.5" y="1571.5" text-anchor="middle">60</text>
<text x="626" y="1571.5" text-anchor="middle">80</text>
<text x="845" y="1571.5" text-anchor="middle">100</text>
<text x="1057.5" y="1571.5" text-anchor="middle">120</text>
<text x="1269" y="1571.5" text-anchor="middle">140</text>
<text x="1481" y="1571.5" text-anchor="middle">160</text>
<text x="1698" y="1571.5" text-anchor="middle">180</text>
<text x="1908" y="1571.5" text-anchor="middle">200</text>
<text x="848" y="1697.5">Temp. (<tspan font-size="60" dy="-39">o</tspan><tspan dy="39">C)</tspan></text>
<text x="427.5" y="225">30 <tspan font-size="60" dy="-38">o</tspan><tspan dy="38">C/min</tspan></text>
<text y="583" font-size="97"><tspan x="335.5">5 </tspan><tspan x="417.5">W</tspan><tspan x="510">/</tspan><tspan x="534">g</tspan></text>
<text x="563" y="766" fill="#ff0000">with shear flow</text>
<text x="244" y="1365.5">without shear flow</text>
<text transform="translate(84 1026) rotate(-90)">Heat flow (W/g)</text>
<text transform="translate(122.5 282.5) rotate(-90)">Endo</text>
</g>
<rect x="0" y="1715" width="2001" height="27" fill="#fff"/>
</svg>
</body></html>
